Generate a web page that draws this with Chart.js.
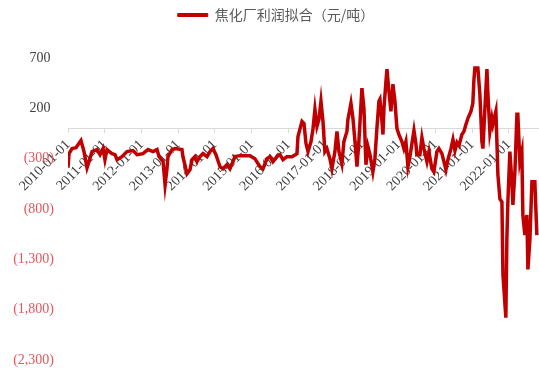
<!DOCTYPE html>
<html>
<head>
<meta charset="utf-8">
<script src="https://cdn.jsdelivr.net/npm/chart.js@4.4.0/dist/chart.umd.min.js"></script>
<style>
  body { margin: 0; background: #fff; }
  #box { width: 539px; height: 374px; }
</style>
</head>
<body>
<div id="box"><canvas id="profitChart"></canvas></div>
<script>
// coke plant fitted profit, yuan per tonne
const dates = [
  '2010-01-01','2010-01-11','2010-02-10','2010-03-22','2010-05-10','2010-06-09','2010-07-09','2010-08-28','2010-10-16','2010-11-15','2010-12-15',
  '2011-01-03','2011-01-23','2011-03-14','2011-04-13','2011-05-03','2011-06-21','2011-08-10','2011-10-09','2011-11-18',
  '2012-01-16','2012-03-06','2012-04-25','2012-06-04','2012-06-24','2012-08-03','2012-08-23','2012-09-11','2012-09-21','2012-10-31','2012-11-30',
  '2013-02-07','2013-02-17','2013-03-29','2013-04-28','2013-05-18','2013-06-16','2013-07-06','2013-08-05','2013-09-04','2013-10-14','2013-11-13','2013-12-12',
  '2014-01-11','2014-02-20','2014-03-22','2014-04-30','2014-05-30','2014-07-19','2014-09-07','2014-12-15',
  '2015-02-02','2015-03-24','2015-04-23','2015-06-02','2015-07-01','2015-07-31','2015-09-09','2015-10-09','2015-11-08','2015-12-17',
  '2016-02-05','2016-03-26','2016-04-05','2016-05-15','2016-06-04','2016-06-24','2016-07-14','2016-08-13','2016-09-02','2016-09-21','2016-10-11','2016-10-31','2016-11-20','2016-12-10','2016-12-29',
  '2017-01-18','2017-02-17','2017-03-09','2017-04-08','2017-04-28','2017-05-18','2017-06-16','2017-07-06','2017-08-05','2017-08-15','2017-09-14','2017-10-04','2017-10-24','2017-11-13','2017-12-02',
  '2018-01-01','2018-01-21','2018-02-10','2018-03-02','2018-03-22','2018-04-20','2018-05-10','2018-05-30','2018-06-19','2018-06-29','2018-07-19','2018-07-29','2018-08-08','2018-08-28','2018-09-07','2018-09-26','2018-10-16','2018-11-05','2018-11-25','2018-12-15',
  '2019-01-03','2019-02-02','2019-02-22','2019-03-14','2019-04-03','2019-04-23','2019-05-13','2019-06-02','2019-06-21','2019-07-01','2019-07-31','2019-08-20','2019-09-09','2019-10-09','2019-10-29','2019-11-27','2019-12-17',
  '2020-01-16','2020-02-05','2020-03-06','2020-03-26','2020-04-15','2020-05-05','2020-06-04','2020-06-24','2020-07-14','2020-08-03','2020-08-23','2020-09-21','2020-10-11','2020-10-31','2020-11-20','2020-12-20',
  '2021-01-08','2021-01-18','2021-01-28','2021-02-27','2021-03-19','2021-04-08','2021-04-18','2021-05-08','2021-05-28','2021-06-07','2021-06-26','2021-07-16','2021-07-26','2021-08-25','2021-09-04','2021-09-14','2021-10-04','2021-10-24','2021-11-03','2021-12-02','2021-12-12','2021-12-22',
  '2022-01-11','2022-01-31','2022-02-10','2022-03-02','2022-03-22','2022-03-31','2022-04-20','2022-05-10','2022-05-20','2022-06-09','2022-06-29','2022-07-09','2022-07-29','2022-08-18','2022-09-16','2022-10-06'
];

const profit = [
  -390, -250, -200, -190, -120, -230, -390, -230, -210, -260, -200,
  -310, -210, -250, -260, -310, -280, -230, -220, -260,
  -250, -210, -230, -210, -280, -330, -560, -400, -280, -210, -200,
  -210, -280, -450, -410, -310, -280, -330, -280, -250, -280, -230, -200,
  -260, -380, -400, -360, -400, -280, -270, -270,
  -300, -380, -400, -300, -280, -330, -280, -260, -310, -280,
  -280, -250, -80, 70, 50, -150, -230, -130, 0, 190, 20, 90, 270, 70, -230,
  -200, -300, -400, -230, -30, -230, -350, -130, -30, 90, 250, 100, -130, -380, -130,
  400, 200, -360, -180, -260, -430, -300, 0, 270, 290, 70, -60, 200, 470, 590, 370, 170, 440, 270, 0,
  -60, -130, -200, -130, -380, -280, -150, -20, -150, -260, -260, -90, -200, -330, -230, -400, -430,
  -230, -200, -250, -330, -410, -310, -200, -110, -220, -140, -170, -60, -30, 40, 100, 170,
  250, 470, 600, 600, 340, -130, -200, 200, 590, 340, -30, 100, 40, 170, -130, -460, -700, -730, -1450, -1880, -1100, -730,
  -230, -530, -760, -430, 140, 140, -330, -230, -860, -1060, -860, -1400, -1100, -530, -530, -1060
];

const yearTicks = [2010, 2011, 2012, 2013, 2014, 2015, 2016, 2017, 2018, 2019, 2020, 2021, 2022];
const seriesName = '焦化厂利润拟合（元/吨）';

const lineColor = '#c00000';
const negColor = '#e8555c';
const textColor = '#404040';
const serif = "'Liberation Serif', 'Times New Roman', serif";

// date string -> fractional year for the linear x scale
function toYear(s) {
  const d = new Date(s + 'T00:00:00Z');
  const y = d.getUTCFullYear();
  const a = Date.UTC(y, 0, 1), b = Date.UTC(y + 1, 0, 1);
  return y + (d.getTime() - a) / (b - a);
}

// accounting style: negatives in brackets
function fmt(v) {
  const s = Math.abs(v).toLocaleString('en-US');
  return v < 0 ? '(' + s + ')' : s + ' ';
}

const points = dates.map((d, i) => ({ x: toYear(d), y: profit[i] }));

// extra room under the legend
const legendGap = {
  id: 'legendGap',
  beforeInit(chart) {
    const fit = chart.legend.fit;
    chart.legend.fit = function () {
      fit.bind(chart.legend)();
      this.height += 26;
    };
  }
};

const chart = new Chart(document.getElementById('profitChart'), {
  type: 'line',
  data: {
    datasets: [{
      label: seriesName,
      data: points,
      borderColor: lineColor,
      backgroundColor: lineColor,
      borderWidth: 3.5,
      pointRadius: 0,
      tension: 0,
      fill: false
    }]
  },
  options: {
    responsive: true,
    maintainAspectRatio: false,
    animation: false,
    layout: { padding: { left: 13, right: 0, top: 0, bottom: 14 } },
    plugins: {
      tooltip: { enabled: false },
      legend: {
        position: 'top',
        labels: {
          boxWidth: 30,
          boxHeight: 3,
          padding: 8,
          color: '#595959',
          font: { family: "'Noto Sans CJK SC', sans-serif", size: 14 },
          generateLabels(c) {
            const items = Chart.defaults.plugins.legend.labels.generateLabels(c);
            items.forEach(it => { it.lineWidth = 1; it.fillStyle = lineColor; it.strokeStyle = lineColor; });
            return items;
          }
        }
      }
    },
    scales: {
      x: {
        type: 'linear',
        position: { y: 0 },
        min: 2010,
        max: 2022.82,
        afterBuildTicks(scale) {
          scale.ticks = yearTicks.map(v => ({ value: v }));
        },
        // rotated labels may hang past the left edge of the plot
        afterFit(scale) {
          scale.paddingLeft = 0;
          scale.paddingRight = 0;
        },
        ticks: {
          autoSkip: false,
          minRotation: 45,
          maxRotation: 45,
          padding: 4,
          color: textColor,
          font: { family: serif, size: 14 },
          callback: v => v + '-01-01'
        },
        grid: { drawOnChartArea: false, drawTicks: true, tickLength: 4, color: '#d9d9d9' },
        border: { display: true, color: '#d9d9d9' }
      },
      y: {
        min: -2300,
        max: 700,
        // keep the axis box tight around the bracketed labels
        afterFit(scale) {
          scale.width = 55;
          scale.paddingTop = 0;
          scale.paddingBottom = 0;
        },
        ticks: {
          stepSize: 500,
          padding: 14,
          color: ctx => (ctx.tick.value < 0 ? negColor : textColor),
          font: { family: serif, size: 14 },
          callback: v => fmt(v)
        },
        grid: { display: false, drawTicks: false },
        border: { display: false }
      }
    }
  },
  plugins: [legendGap]
});
</script>
</body>
</html>
